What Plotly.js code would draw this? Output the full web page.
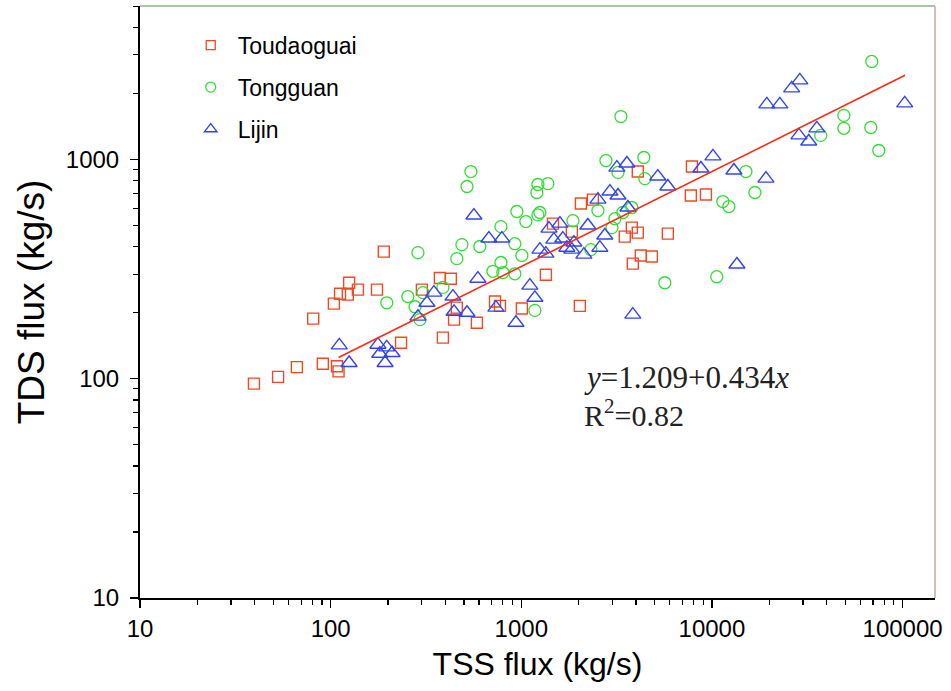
<!DOCTYPE html>
<html>
<head>
<meta charset="utf-8">
<script src="https://cdn.plot.ly/plotly-3.0.1.min.js"></script>
<style>html,body{margin:0;padding:0;background:#fff;}#chart{width:951px;height:691px;}</style>
</head>
<body>
<div id="chart"></div>
<script>
// Toudaoguai (squares)
const toudX = [39.6,53,66.5,91,108,110,81,234,190,125,112,123,139,175,104,301,374,427,459,444,388,728,773,585,1007,1346,2055,2373,1466,1841,2028,4083,7852,7750,9300,3800,4083,3490,5870,4237,4840,3845];
const toudY = [95,102,113,117,114,108,188,146,380,274,244,242,255,255,220,255,288,286,211,186,154,225,215,180,209,298,630,656,510,469,215,881,929,685,692,489,464,445,459,365,361,335];
// Tongguan (circles)
const tongX = [287,197,254,305,277,294,544,519,1222,1378,1207,2780,948,1057,1252,1222,782,1866,488,606,459,925,1007,782,710,800,925,388,1178,2317,2524,3097,3215,4395,4447,3410,3800,2990,15070,16800,11400,12270,10600,5660,3330,68900,49200,49200,68100,75000,37200];
const tongY = [376,222,237,247,213,186,881,753,769,776,707,989,579,521,573,559,494,526,409,401,353,413,365,339,309,305,301,261,205,388,585,537,873,1021,818,573,604,489,881,707,643,610,292,274,1570,2800,1589,1387,1400,1099,1288];
// Lijin (triangles)
const lijX = [111,125,177,197,181,210,193,287,320,348,438,444,519,736,937,592,564,676,791,1109,1178,1252,1346,1397,1594,1482,1651,1733,1888,1841,2130,2234,2582,2742,2524,2917,3172,3580,5200,5870,3215,3625,10120,8750,13040,19200,13520,3845,28900,26200,19400,22700,102600,28600,35500,32200];
const lijY = [142,118,143,139,130,131,118,192,222,247,237,202,200,211,180,286,555,436,436,266,234,388,372,484,510,431,436,396,418,388,368,500,396,450,656,714,918,959,836,753,685,604,1033,910,891,818,332,196,2296,2110,1783,1783,1803,1288,1387,1208];
// Fitted line end points
const fitX = [110, 103000];
const fitY = [125, 2420];
const xTicks = [10,100,1000,10000,100000];
const xTickText = ['10','100','1000','10000','100000'];
const yTicks = [10,100,1000];
const yTickText = ['10','100','1000'];
const names = ['Toudaoguai','Tongguan','Lijin'];

const cT = '#ee4a24', cG = '#33dd33', cL = '#3344ee';
function minorVals(lo, hi){const v=[];for(let d=lo; d<hi; d*=10){for(let k=2;k<=9;k++){v.push(d*k);}}return v;}

const traces = [
  {x: toudX, y: toudY, mode:'markers', type:'scatter', showlegend:false,
   marker:{symbol:'square-open', size:11, color:cT, line:{width:1.4}}},
  {x: tongX, y: tongY, mode:'markers', type:'scatter', showlegend:false,
   marker:{symbol:'circle-open', size:12, color:cG, line:{width:1.3}}},
  {x: lijX, y: lijY, mode:'markers', type:'scatter', showlegend:false,
   marker:{symbol:'triangle-up-open', size:14, color:cL, line:{width:1.4}}},
  {x: fitX, y: fitY, mode:'lines', type:'scatter', showlegend:false,
   line:{color:'#ff2a10', width:1.6}},
  {x:[null], y:[null], mode:'markers', name:names[0], legendgroup:'a',
   marker:{symbol:'square-open', size:9, color:cT, line:{width:1.3}}},
  {x:[null], y:[null], mode:'markers', name:names[1], legendgroup:'b',
   marker:{symbol:'circle-open', size:10, color:cG, line:{width:1.3}}},
  {x:[null], y:[null], mode:'markers', name:names[2], legendgroup:'c',
   marker:{symbol:'triangle-up-open', size:11, color:cL, line:{width:1.3}}}
];

const font = 'Liberation Sans, Arial, sans-serif';
const serif = 'Liberation Serif, Times New Roman, serif';
const layout = {
  width:951, height:691,
  margin:{l:140, r:16, t:6, b:93},
  paper_bgcolor:'#fff', plot_bgcolor:'#fff',
  font:{family:font, color:'#000', size:22},
  showlegend:true,
  legend:{x:0.055, y:0.97, xanchor:'left', yanchor:'top', bgcolor:'rgba(0,0,0,0)', itemwidth:44,
          font:{family:font, size:23, color:'#000'}, traceorder:'grouped', tracegroupgap:9},
  xaxis:{type:'log', range:[1, 5.17], tickmode:'array', tickvals:xTicks, ticktext:xTickText,
         ticks:'outside', ticklen:8, tickwidth:1.5, tickcolor:'#000',
         showline:true, linecolor:'#000', linewidth:2, showgrid:false, zeroline:false,
         tickfont:{family:font, size:24, color:'#000'},
         minor:{tickvals:minorVals(10,100000).filter(v=>v<148000), ticks:'outside', ticklen:5, tickwidth:1.2, tickcolor:'#000', showgrid:false},
         title:{text:'TSS flux (kg/s)', font:{family:font, size:32, color:'#000'}, standoff:12}},
  yaxis:{type:'log', range:[1, 3.70], tickmode:'array', tickvals:yTicks, ticktext:yTickText,
         ticks:'outside', ticklen:8, tickwidth:1.5, tickcolor:'#000', ticklabelstandoff:6,
         showline:true, linecolor:'#000', linewidth:2, showgrid:false, zeroline:false,
         tickfont:{family:font, size:24, color:'#000'},
         minor:{tickvals:minorVals(10,10000).filter(v=>v<5010), ticks:'outside', ticklen:5, tickwidth:1.2, tickcolor:'#000', showgrid:false},
         title:{text:'TDS flux (kg/s)', font:{family:font, size:37, color:'#000'}, standoff:10}},
  shapes:[
    {type:'line', xref:'paper', yref:'paper', x0:0, x1:1, y0:1, y1:1, line:{color:'#86b486', width:1.5}},
    {type:'line', xref:'paper', yref:'paper', x0:1, x1:1, y0:0, y1:1, line:{color:'#c4a8a2', width:1.5}}
  ],
  annotations:[
    {xref:'paper', yref:'paper', x:0.556, y:0.372, xanchor:'left', yanchor:'middle', showarrow:false,
     text:'<i>y</i>=1.209+0.434<i>x</i>', font:{family:serif, size:31, color:'#222'}},
    {xref:'paper', yref:'paper', x:0.556, y:0.312, xanchor:'left', yanchor:'middle', showarrow:false,
     text:'R<sup>2</sup>=0.82', font:{family:serif, size:30, color:'#222'}}
  ]
};
Plotly.newPlot('chart', traces, layout, {displayModeBar:false, staticPlot:true});
</script>
</body>
</html>
